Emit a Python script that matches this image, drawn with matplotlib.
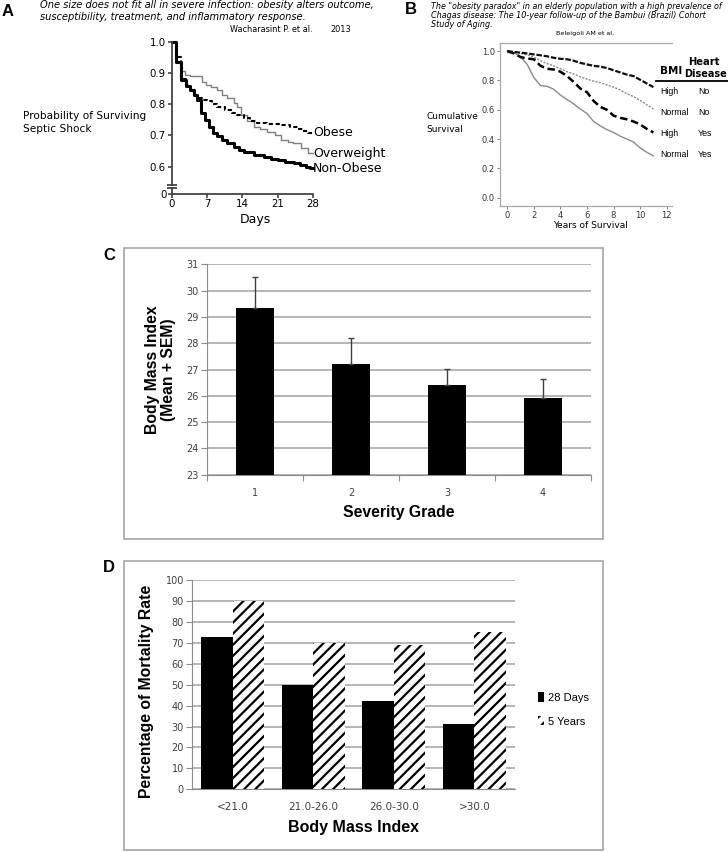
import matplotlib
matplotlib.use("Agg")
import matplotlib.pyplot as plt
from matplotlib import font_manager
from matplotlib.patches import Rectangle
from matplotlib.lines import Line2D
import numpy as np

W, H = 728, 852

# ---- panel A: survival of septic shock (days)
a_nonobese_days = [0, 0.8, 1.7, 2.7, 3.5, 4.3, 5.0, 5.7, 6.5, 7.3, 8.2, 9.0, 10.0, 11.0,
                   12.3, 13.3, 14.3, 16.3, 18.3, 19.7, 21.0, 22.5, 24.3, 25.5, 26.7, 27.5, 28]
a_nonobese_surv = [1.0, 0.936, 0.877, 0.858, 0.845, 0.829, 0.813, 0.771, 0.749, 0.728, 0.707,
                   0.698, 0.685, 0.675, 0.664, 0.653, 0.646, 0.637, 0.632, 0.625, 0.621, 0.616,
                   0.611, 0.605, 0.600, 0.595, 0.595]
a_obese_days = [0, 0.8, 1.7, 2.7, 3.5, 4.3, 5.0, 6.0, 7.0, 8.0, 9.0, 10.5, 12.0, 13.0, 14.3,
                15.5, 17.0, 19.0, 21.7, 23.5, 25.0, 26.0, 27.0, 28]
a_obese_surv = [1.0, 0.95, 0.88, 0.86, 0.845, 0.83, 0.82, 0.815, 0.81, 0.80, 0.792, 0.782,
                0.771, 0.765, 0.755, 0.745, 0.739, 0.737, 0.733, 0.728, 0.72, 0.715, 0.709, 0.709]
a_overweight_days = [0, 0.8, 1.7, 2.5, 3.5, 6.0, 6.8, 7.7, 9.0, 10.0, 11.0, 12.3, 13.0, 13.7,
                     15.0, 16.3, 17.5, 19.0, 20.5, 21.7, 23.0, 24.0, 25.7, 27.0, 28]
a_overweight_surv = [1.0, 0.935, 0.905, 0.895, 0.89, 0.872, 0.861, 0.855, 0.845, 0.83, 0.819,
                     0.805, 0.792, 0.765, 0.745, 0.728, 0.72, 0.712, 0.70, 0.685, 0.68, 0.675,
                     0.659, 0.645, 0.643]
a_xticks = [0, 7, 14, 21, 28]
a_yticks = [0.6, 0.7, 0.8, 0.9, 1.0]

# ---- panel B: cumulative survival (years)
b_years = [0, 0.5, 1, 1.5, 2, 2.5, 3, 3.5, 4, 4.5, 5, 5.5, 6, 6.5, 7, 7.5, 8, 8.5, 9, 9.5, 10, 10.5, 11]
b_high_no = [1.0, 0.995, 0.99, 0.985, 0.978, 0.972, 0.965, 0.955, 0.948, 0.945, 0.935, 0.92,
             0.91, 0.90, 0.895, 0.885, 0.87, 0.855, 0.84, 0.83, 0.805, 0.78, 0.755]
b_normal_no = [1.0, 0.995, 0.985, 0.975, 0.96, 0.935, 0.915, 0.90, 0.88, 0.86, 0.845, 0.825,
               0.81, 0.795, 0.785, 0.77, 0.755, 0.735, 0.71, 0.69, 0.665, 0.635, 0.605]
b_high_yes = [1.0, 0.985, 0.96, 0.95, 0.945, 0.90, 0.88, 0.875, 0.86, 0.83, 0.79, 0.745, 0.72,
              0.66, 0.62, 0.60, 0.56, 0.545, 0.535, 0.52, 0.50, 0.47, 0.445]
b_normal_yes = [1.0, 0.99, 0.96, 0.91, 0.82, 0.765, 0.76, 0.74, 0.70, 0.67, 0.64, 0.605, 0.575,
                0.52, 0.49, 0.465, 0.445, 0.42, 0.40, 0.38, 0.34, 0.31, 0.285]
b_bmi = ["High", "Normal", "High", "Normal"]
b_heart = ["No", "No", "Yes", "Yes"]

# ---- panel C: BMI by severity grade
c_grades = ["1", "2", "3", "4"]
c_bmi_mean = [29.35, 27.2, 26.4, 25.9]
c_bmi_sem = [1.16, 1.0, 0.61, 0.73]

# ---- panel D: mortality by BMI class
d_classes = ["<21.0", "21.0-26.0", "26.0-30.0", ">30.0"]
d_28days = [73, 50, 42, 31]
d_5years = [90, 70, 69, 75]

plt.rcParams["hatch.linewidth"] = 1.6
fig = plt.figure(figsize=(W / 100, H / 100), dpi=100)


def px_axes(left, top, right, bottom):
    return fig.add_axes([left / W, 1 - bottom / H, (right - left) / W, (bottom - top) / H])


def px_text(x, y, s, **kw):
    kw.setdefault("va", "center")
    return fig.text(x / W, 1 - y / H, s, **kw)


ARIAL = "Liberation Sans"
# condensed font for the little table in B, if there is one
_names = {f.name for f in font_manager.fontManager.ttflist}
if "Liberation Sans Narrow" in _names:
    NARROW, NARROW_SIZE = "Liberation Sans Narrow", 7.5
else:
    NARROW, NARROW_SIZE = "Liberation Sans", 6.3

# ================= A =================
px_text(7.5, 11, "A", fontsize=12, weight="bold", family=ARIAL, ha="center")
px_text(40, 5, "One size does not fit all in severe infection: obesity alters outcome,",
        fontsize=7.1, style="italic")
px_text(40, 16.7, "susceptibility, treatment, and inflammatory response.", fontsize=7.1, style="italic")
px_text(230, 30, "Wacharasint P. et al.", fontsize=5.9)
px_text(330, 30, "2013", fontsize=5.9)

axA = px_axes(172, 41.7, 312.7, 185)
axA.step(a_overweight_days, a_overweight_surv, where="post", color="#808080", lw=1, clip_on=False)
axA.step(a_obese_days, a_obese_surv, where="post", color="black", lw=1.5, ls=(0, (2, 1.3)), clip_on=False)
axA.step(a_nonobese_days, a_nonobese_surv, where="post", color="black", lw=2.2, clip_on=False)
axA.set_xlim(0, 28)
axA.set_ylim(0.5414, 1.0)
for s in ["top", "right", "bottom"]:
    axA.spines[s].set_visible(False)
axA.spines["left"].set_color("#444444")
axA.spines["left"].set_linewidth(1.3)
axA.set_xticks([])
axA.set_yticks(a_yticks)
axA.set_yticklabels([f"{v:.1f}" for v in a_yticks])
axA.tick_params(axis="y", length=3, width=1.2, color="#444444", labelsize=7.4, pad=1.5)
axA.plot([0], [0], marker="_", ms=7, mew=1.3, color="#444444", transform=axA.transAxes, clip_on=False)

axA0 = px_axes(172, 188, 312.7, 193.5)
axA0.set_xlim(0, 28)
axA0.set_ylim(0, 1)
for s in ["top", "right"]:
    axA0.spines[s].set_visible(False)
for s in ["left", "bottom"]:
    axA0.spines[s].set_color("#444444")
    axA0.spines[s].set_linewidth(1.3)
axA0.set_yticks([0])
axA0.set_yticklabels(["0"])
axA0.set_xticks(a_xticks)
axA0.tick_params(axis="both", length=3, width=1.2, color="#444444", labelsize=7.4, pad=1)
axA0.plot([0], [1], marker="_", ms=7, mew=1.3, color="#444444", transform=axA0.transAxes, clip_on=False)

px_text(23, 116, "Probability of Surviving", fontsize=7.6)
px_text(23, 129.3, "Septic Shock", fontsize=7.6)
px_text(313, 132.7, "Obese", fontsize=9)
px_text(313, 153.3, "Overweight", fontsize=9)
px_text(313, 168.3, "Non-Obese", fontsize=9)
px_text(255, 220, "Days", fontsize=9, ha="center")

# ================= B =================
px_text(410.5, 10, "B", fontsize=12, weight="bold", family=ARIAL, ha="center")
px_text(430.7, 6.7, 'The "obesity paradox" in an elderly population with a high prevalence of',
        fontsize=5.8, style="italic")
px_text(430.7, 15.7, "Chagas disease: The 10-year follow-up of the Bambui (Brazil) Cohort",
        fontsize=5.8, style="italic")
px_text(430.7, 24.5, "Study of Aging.", fontsize=5.8, style="italic")
px_text(585, 33.3, "Beleigoli AM et al.", fontsize=4.6, ha="center")

axB = px_axes(500, 42.7, 671.7, 206)
axB.plot(b_years, b_normal_yes, color="#8a8a8a", lw=1)
axB.plot(b_years, b_high_yes, color="black", lw=1.8, ls=(0, (3, 1.5)))
axB.plot(b_years, b_normal_no, color="#8a8a8a", lw=1, ls=(0, (1.5, 1)))
axB.plot(b_years, b_high_no, color="#111111", lw=1.6, ls=(0, (2.5, 0.8)))
axB.set_xlim(-0.55, 12.38)
axB.set_ylim(-0.057, 1.058)
axB.spines["right"].set_visible(False)
for s in ["top", "left", "bottom"]:
    axB.spines[s].set_color("#a8a8a8")
    axB.spines[s].set_linewidth(0.9)
axB.set_xticks(range(0, 13, 2))
axB.set_yticks(np.arange(0, 1.01, 0.2))
axB.set_yticklabels([f"{v:.1f}" for v in np.arange(0, 1.01, 0.2)])
axB.tick_params(axis="both", length=2.2, width=0.8, color="#888888", labelsize=6,
                labelcolor="#333333", pad=1.5)
px_text(426.7, 116.7, "Cumulative", fontsize=6.5)
px_text(426.7, 129.3, "Survival", fontsize=6.5)
px_text(591, 225, "Years of Survival", fontsize=6.5, ha="center")

# little BMI / heart disease table
px_text(660, 70.7, "BMI", fontsize=7.5, weight="bold")
px_text(703.5, 62, "Heart", fontsize=7.2, weight="bold", ha="center")
px_text(684, 74, "Disease", fontsize=7, weight="bold")
fig.add_artist(Line2D([656 / W, 1.0], [1 - 81 / H, 1 - 81 / H], color="black", lw=1.3,
                      transform=fig.transFigure))
for i, (bmi, heart) in enumerate(zip(b_bmi, b_heart)):
    y = 92 + i * 20.7
    px_text(660.5, y, bmi, fontsize=NARROW_SIZE, family=NARROW)
    px_text(698.3, y, heart, fontsize=NARROW_SIZE, family=NARROW)

# ================= C =================
px_text(109, 256, "C", fontsize=12, weight="bold", family=ARIAL, ha="center")
fig.add_artist(Rectangle((124 / W, 1 - 539.3 / H), (603 - 124) / W, (539.3 - 248.3) / H,
                         transform=fig.transFigure, fill=False, ec="#a6a6a6", lw=1.2))
axC = px_axes(207, 264.4, 591, 474.7)
xc = np.arange(len(c_grades))
axC.bar(xc, c_bmi_mean, width=0.39, color="black", zorder=3,
        yerr=[[0] * len(c_bmi_sem), c_bmi_sem],
        error_kw=dict(ecolor="#404040", elinewidth=1, capsize=2.5, capthick=1, zorder=3))
axC.set_xlim(-0.5, len(c_grades) - 0.5)
axC.set_ylim(23, 31)
axC.set_yticks(range(23, 32))
axC.yaxis.grid(True, color="#b0b0b0", lw=1.3)
axC.set_axisbelow(True)
for s in ["top", "right"]:
    axC.spines[s].set_visible(False)
for s in ["left", "bottom"]:
    axC.spines[s].set_color("#8c8c8c")
axC.set_xticks(np.arange(-0.5, len(c_grades), 1.0))
axC.set_xticklabels([])
axC.set_xticks(xc, minor=True)
axC.set_xticklabels(c_grades, minor=True)
axC.tick_params(axis="x", which="major", length=4, color="#8c8c8c")
axC.tick_params(axis="x", which="minor", length=0, pad=9.6, labelsize=7, labelcolor="#404040")
axC.tick_params(axis="y", length=4, color="#8c8c8c", labelsize=7, labelcolor="#404040", pad=2)
px_text(399, 513, "Severity Grade", fontsize=11.3, weight="bold", family=ARIAL, ha="center")
px_text(160.8, 370, "Body Mass Index\n(Mean + SEM)", fontsize=11.3, weight="bold", family=ARIAL,
        ha="center", rotation=90, multialignment="center", linespacing=1.1)

# ================= D =================
px_text(109, 568, "D", fontsize=12, weight="bold", family=ARIAL, ha="center")
fig.add_artist(Rectangle((124 / W, 1 - 850 / H), (603 - 124) / W, (850 - 560.7) / H,
                         transform=fig.transFigure, fill=False, ec="#a6a6a6", lw=1.2))
axD = px_axes(192.3, 580, 514.7, 789.3)
xd = np.arange(len(d_classes))
bw = 0.39
b1 = axD.bar(xd - bw / 2, d_28days, bw, color="black", zorder=3, label="28 Days")
b2 = axD.bar(xd + bw / 2, d_5years, bw, color="white", edgecolor="black", hatch="///", lw=0,
             zorder=3, label="5 Years")
axD.set_xlim(-0.5, len(d_classes) - 0.5)
axD.set_ylim(0, 100)
axD.set_yticks(range(0, 101, 10))
axD.yaxis.grid(True, color="#b0b0b0", lw=1.3)
axD.set_axisbelow(True)
for s in ["top", "right"]:
    axD.spines[s].set_visible(False)
for s in ["left", "bottom"]:
    axD.spines[s].set_color("#8c8c8c")
axD.set_xticks(xd)
axD.set_xticklabels(d_classes)
axD.tick_params(axis="x", length=0, pad=9.2, labelsize=7.5, labelcolor="#404040")
axD.tick_params(axis="y", length=4, color="#8c8c8c", labelsize=7, labelcolor="#404040", pad=2)
axD.legend(handles=[b1, b2], loc="center left", bbox_to_anchor=(1.071, 0.381), frameon=False,
           prop={"family": ARIAL, "size": 8}, handlelength=0.6, handleheight=0.9,
           handletextpad=0.3, labelspacing=1.2, borderpad=0, borderaxespad=0)
px_text(353.2, 827.7, "Body Mass Index", fontsize=11.5, weight="bold", family=ARIAL, ha="center")
px_text(147, 691.7, "Percentage of Mortality Rate", fontsize=11.3, weight="bold", family=ARIAL,
        ha="center", rotation=90)

fig.savefig("out.png", dpi=100)
